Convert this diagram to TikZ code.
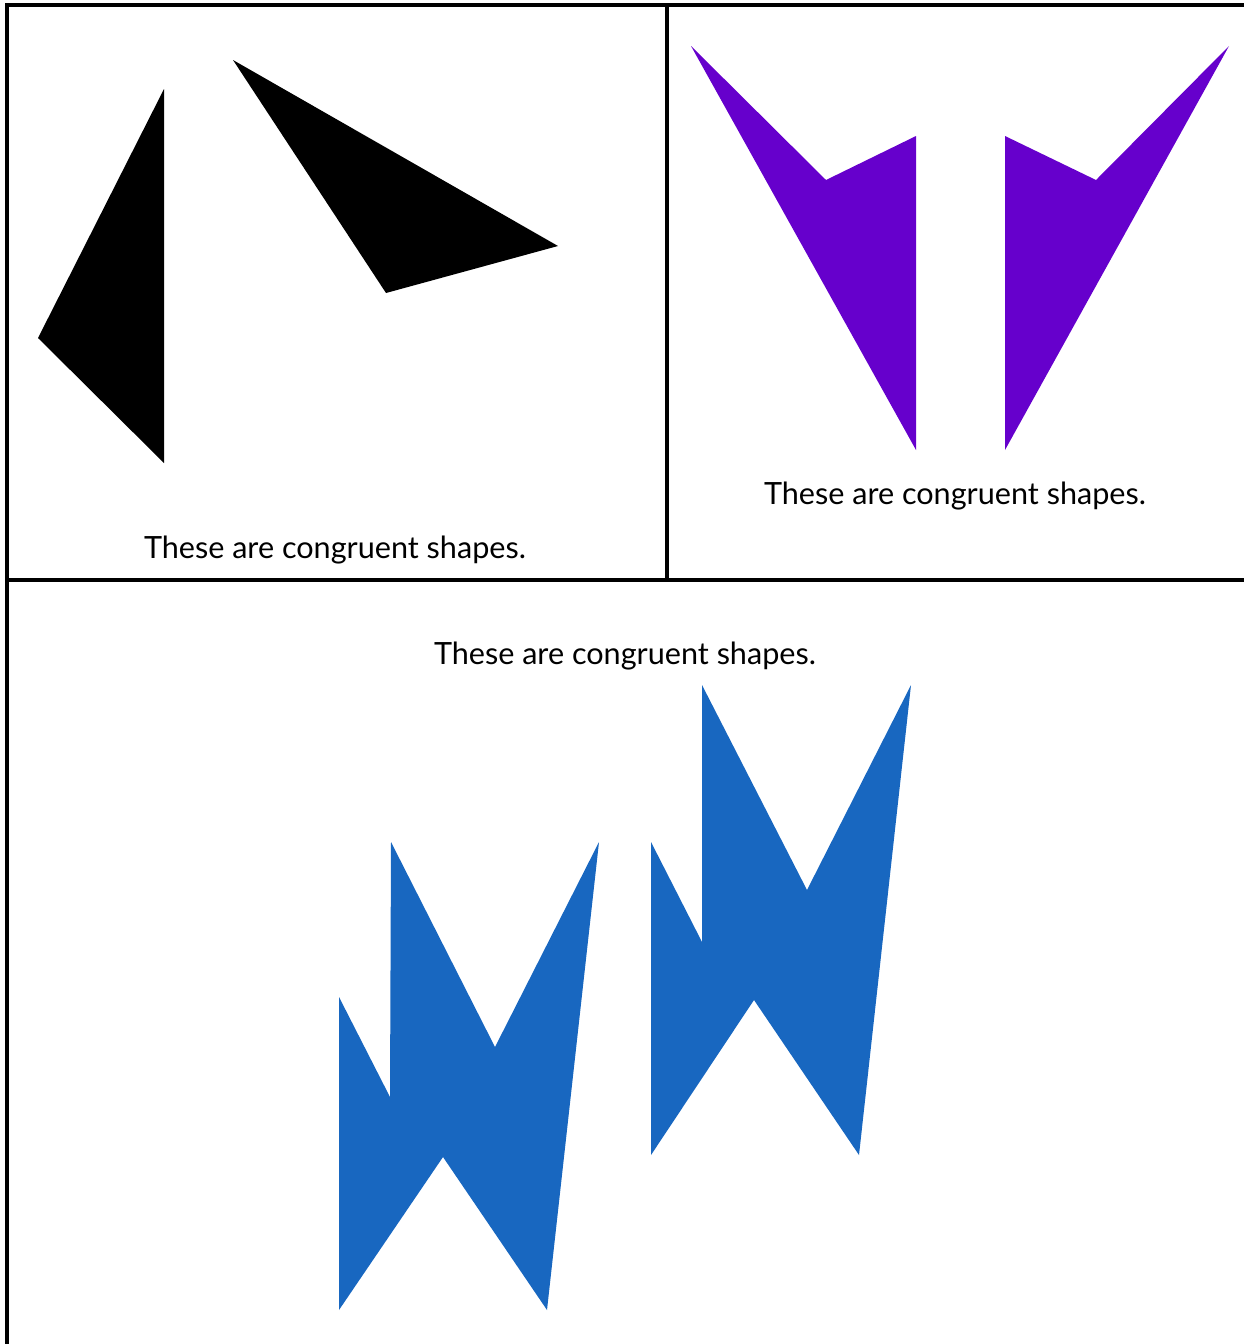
\documentclass[tikz,border=0pt]{standalone}
\usepackage{fontspec}
\setmainfont{Lato}
\definecolor{shpurple}{RGB}{102,0,204}
\definecolor{shblue}{RGB}{24,103,192}
\usepackage{tikz}
\usetikzlibrary{positioning}

\begin{document}
\begin{tikzpicture}[x=0.5pt, y=-0.5pt]
        \tikzset{caption/.style={font=\fontsize{15.3}{18}\selectfont, inner sep=0pt},
            frame/.style={line width=1.6pt, line cap=rect}}
        \useasboundingbox (0,0) rectangle (1243,1344);
        % Table lines
        \draw[frame] (7,1344) -- (7,5) -- (1243,5);
        \draw[frame] (7,580) -- (1243,580);
        \draw[frame] (667,5) -- (667,580);
        % Cell 1: triangles
        \fill[black] (164,89) -- (164,463) -- (38,338) -- cycle;
        \fill[black] (233,60) -- (558,246) -- (386,293) -- cycle;
        \node[caption] (c1) at (335,550) {These are congruent shapes.};
        % Cell 2: arrows
        \fill[shpurple] (691,46) -- (826,180) -- (916,136) -- (916,450) -- cycle;
        \fill[shpurple] (1229,46) -- (1096,180) -- (1005,136) -- (1005,450) -- cycle;
        \node[caption] (c2) at (955,496) {These are congruent shapes.};
        % Cell 3: zigzags
        \node[caption] (c3) at (625,656) {These are congruent shapes.};
        \fill[shblue] (339,997) -- (390,1097) -- (391,842) -- (495,1047) -- (599,842)
            -- (547,1310) -- (443,1157) -- (339,1310) -- cycle;
        \fill[shblue] (651,842) -- (702,942) -- (702,685) -- (807,890) -- (911,685)
            -- (859,1155) -- (754,1000) -- (651,1155) -- cycle;
      \end{tikzpicture}
\end{document}
